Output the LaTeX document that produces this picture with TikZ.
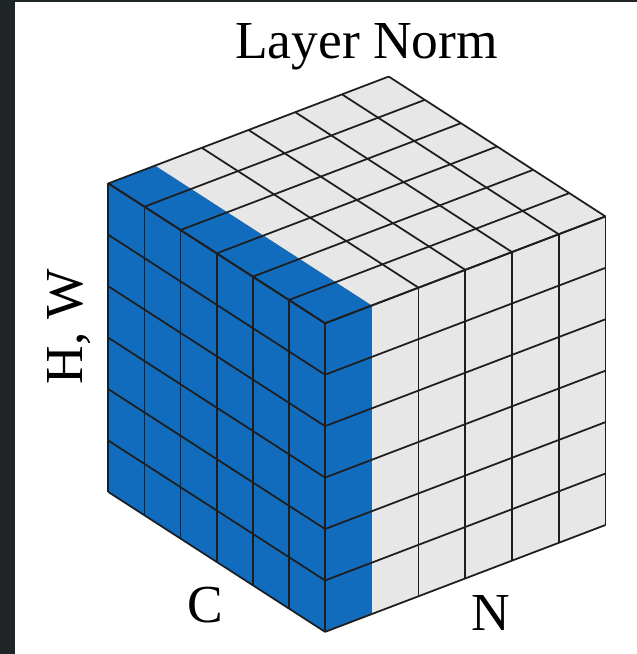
\documentclass[tikz,border=0pt]{standalone}
\usepackage{fontspec}
\setmainfont{Liberation Serif}
\definecolor{slabblue}{RGB}{18,108,190}
\definecolor{facegray}{RGB}{231,231,231}
\definecolor{framedark}{RGB}{31,36,38}
\definecolor{gridline}{RGB}{30,30,30}

\begin{document}
\begin{tikzpicture}[x=0.01cm, y=-0.01cm,
    grid/.style={draw=gridline, line width=0.5pt, line join=round},
    lbl/.style={font=\fontsize{15.2}{18}\selectfont, inner sep=0pt}]
    % canvas with the dark frame on the left and top
    \fill[white] (0,0) rectangle (637,654);
    \fill[framedark] (0,0) rectangle (15,654);
    \fill[framedark] (15,0) rectangle (637,2);
    \useasboundingbox (0,0) rectangle (637,654);

    % cube, coordinates (N, H/W, C)
    \begin{scope}[shift={(1.083cm,-4.917cm)}, x={(0.467cm,0.178cm)}, y={(0cm,0.514cm)}, z={(0.361cm,-0.233cm)}]
        \fill[slabblue] (0,0,0) -- (0,6,0) -- (0,6,6) -- (0,0,6) -- cycle;
        \fill[facegray] (0,6,0) -- (6,6,0) -- (6,6,6) -- (0,6,6) -- cycle;
        \fill[facegray] (0,0,6) -- (6,0,6) -- (6,6,6) -- (0,6,6) -- cycle;
        \fill[slabblue] (0,6,0) -- (1,6,0) -- (1,6,6) -- (0,6,6) -- cycle;
        \fill[slabblue] (0,0,6) -- (1,0,6) -- (1,6,6) -- (0,6,6) -- cycle;
        % left face
        \foreach \i in {0,...,6} {
            \draw[grid] (0,0,\i) -- (0,6,\i);
            \draw[grid] (0,\i,0) -- (0,\i,6);
        }
        % top face
        \foreach \i in {0,...,6} \draw[grid] (0,6,\i) -- (6,6,\i);
        \foreach \i in {0,2,3,4,5,6} \draw[grid] (\i,6,0) -- (\i,6,6);
        % right face
        \foreach \i in {0,...,6} \draw[grid] (0,\i,6) -- (6,\i,6);
        \foreach \i in {0,2,3,4,5,6} \draw[grid] (\i,0,6) -- (\i,6,6);
    \end{scope}

    \node[lbl, anchor=base] (title) at (366.5,58) {Layer Norm};
    \node[lbl, anchor=base, rotate=90] (hwlabel) at (83,326.5) {H, W};
    \node[lbl, anchor=base] (clabel) at (205,622) {C};
    \node[lbl, anchor=base] (nlabel) at (491,630) {N};
\end{tikzpicture}
\end{document}
